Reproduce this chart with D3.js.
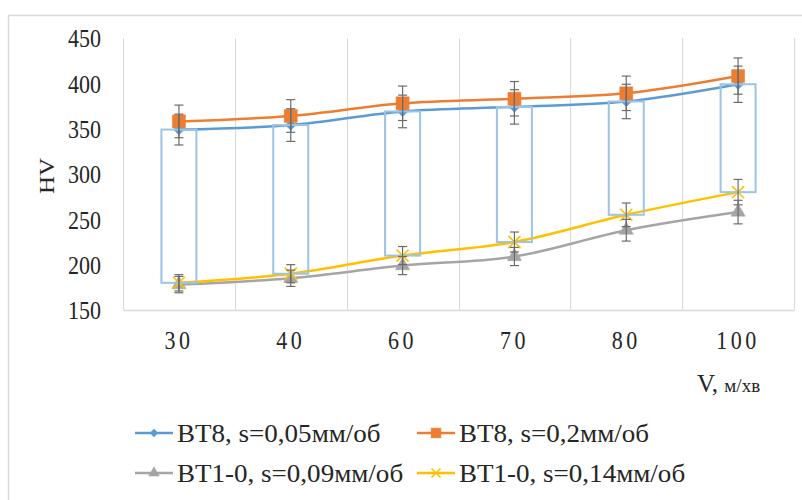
<!DOCTYPE html>
<html>
<head>
<meta charset="utf-8">
<script src="https://cdn.jsdelivr.net/npm/d3@7"></script>
<style>
  body { margin: 0; background: #fff; }
  text { font-family: "Liberation Serif", "Times New Roman", serif; fill: #262626; }
</style>
</head>
<body>
<div id="chart"></div>
<script>
(function () {
  // data
  const speeds = ["30", "40", "60", "70", "80", "100"];
  const yTicks = [150, 200, 250, 300, 350, 400, 450];

  const bt8_005 = [349, 354, 369, 374, 380, 399];
  const bt8_02 = [358, 364, 378, 383, 389, 408];
  const bt10_009 = [178, 185, 199, 209, 238, 258];
  const bt10_014 = [180, 190, 210, 225, 255, 280];

  const err_bt8_005 = [17, 18, 18, 19, 19, 20];
  const err_bt8_02 = [18, 18, 19, 19, 19, 20];
  const err_bt10_009 = [9, 9, 10, 10, 12, 13];
  const err_bt10_014 = [9, 10, 10, 11, 13, 14];

  const seriesNames = [
    "BT8, s=0,05мм/об",
    "BT8, s=0,2мм/об",
    "BT1-0, s=0,09мм/об",
    "BT1-0, s=0,14мм/об",
  ];

  const series = [
    { name: seriesNames[0], values: bt8_005, err: err_bt8_005, color: "#5B9BD5", marker: "diamond" },
    { name: seriesNames[1], values: bt8_02, err: err_bt8_02, color: "#ED7D31", marker: "square" },
    { name: seriesNames[2], values: bt10_009, err: err_bt10_009, color: "#A5A5A5", marker: "triangle" },
    { name: seriesNames[3], values: bt10_014, err: err_bt10_014, color: "#FFC000", marker: "cross" },
  ];

  const W = 802, H = 500;
  const plot = { left: 123, right: 794, top: 38, bottom: 310 };
  const FS = 25;      // font size
  const SX = 0.88;    // axis numbers look squeezed horizontally

  const svg = d3.select("#chart").append("svg")
    .attr("width", W).attr("height", H);

  svg.append("rect").attr("width", W).attr("height", H).attr("fill", "#fff");

  // outer chart frame (runs off the picture right and bottom)
  svg.append("path")
    .attr("d", "M8.5," + H + "V15.5H" + W)
    .attr("fill", "none").attr("stroke", "#d9d9d9").attr("stroke-width", 1.5);

  const x = d3.scaleBand().domain(speeds).range([plot.left, plot.right]);
  const y = d3.scaleLinear().domain([150, 450]).range([plot.bottom, plot.top]);

  // vertical gridlines at category edges
  const edges = speeds.map(d => x(d)).concat([x(speeds[speeds.length - 1]) + x.bandwidth()]);
  svg.append("g").selectAll("line").data(edges).join("line")
    .attr("x1", d => Math.round(d) + 0.5).attr("x2", d => Math.round(d) + 0.5)
    .attr("y1", plot.top).attr("y2", plot.bottom)
    .attr("stroke", "#d9d9d9").attr("stroke-width", 1);

  // y axis
  const yAxis = svg.append("g")
    .attr("transform", `translate(${plot.left},0)`)
    .call(d3.axisLeft(y).tickValues(yTicks).tickSize(0).tickPadding(0));
  yAxis.select(".domain").remove();
  yAxis.selectAll("text")
    .attr("x", null)
    .attr("dy", "0.35em")
    .style("font-size", FS + "px")
    .style("font-family", null)
    .attr("transform", `translate(-22,0) scale(${SX},1)`);

  // x axis
  const xAxis = svg.append("g")
    .attr("transform", `translate(0,${plot.bottom})`)
    .call(d3.axisBottom(x).tickSize(0).tickPadding(21));
  xAxis.select(".domain").attr("stroke", "#d9d9d9").attr("stroke-width", 1.5);
  xAxis.selectAll(".tick text")
    .style("font-size", FS + "px")
    .style("letter-spacing", "4px")
    .style("font-family", null)
    .attr("transform", `scale(${SX},1)`);

  // axis titles
  svg.append("text")
    .attr("transform", `translate(47,176) rotate(-90) scale(1,${SX})`)
    .attr("text-anchor", "middle").attr("dominant-baseline", "central")
    .style("font-size", FS + "px")
    .text("HV");

  const vt = svg.append("text")
    .attr("transform", "translate(697,392)");
  vt.append("tspan").style("font-size", FS + "px").text("V, ");
  vt.append("tspan").style("font-size", "19px").text("м/хв");

  const cx = d => x(d) + x.bandwidth() / 2;

  function markerPath(type, s) {
    if (type === "diamond") return d3.symbol(d3.symbolDiamond2, s * s * 0.5)();
    if (type === "square") return d3.symbol(d3.symbolSquare, s * s)();
    if (type === "triangle") return d3.symbol(d3.symbolTriangle, s * s * 0.45)();
    return d3.symbol(d3.symbolTimes, s * s * 0.5)();
  }
  const markerSize = { diamond: 12, square: 13, triangle: 14, cross: 14 };

  function drawMarker(g, s, px, py, scale) {
    const p = g.append("path")
      .attr("d", markerPath(s.marker, markerSize[s.marker] * scale))
      .attr("transform", `translate(${px},${py})`);
    if (s.marker === "cross") {
      p.attr("fill", "none").attr("stroke", s.color).attr("stroke-width", 1.6);
    } else {
      p.attr("fill", s.color).attr("stroke", s.color).attr("stroke-width", 0.5);
    }
  }

  const line = d3.line().x((v, i) => cx(speeds[i])).y(v => y(v)).curve(d3.curveMonotoneX);

  const seriesG = svg.append("g");
  series.forEach(s => {
    const g = seriesG.append("g");
    g.append("path").attr("d", line(s.values))
      .attr("fill", "none").attr("stroke", s.color).attr("stroke-width", 2.5)
      .attr("stroke-linejoin", "round").attr("stroke-linecap", "round");
    s.values.forEach((v, i) => drawMarker(g, s, cx(speeds[i]), y(v), 1));
  });

  // up-down bars between first and last series (drawn over the blue markers)
  const bw = 35;
  svg.append("g").selectAll("rect").data(speeds).join("rect")
    .attr("x", d => x(d) + x.bandwidth() / 2 - bw / 2)
    .attr("y", (d, i) => y(bt8_005[i]))
    .attr("width", bw)
    .attr("height", (d, i) => y(bt10_014[i]) - y(bt8_005[i]))
    .attr("fill", "none")
    .attr("stroke", "#9DC3E6").attr("stroke-width", 2);

  // error bars
  const eg = svg.append("g").attr("stroke", "#6b6b6b").attr("stroke-width", 1.2);
  series.forEach(s => {
    s.values.forEach((v, i) => {
      const px = cx(speeds[i]);
      const y1 = y(v + s.err[i]), y2 = y(v - s.err[i]);
      eg.append("line").attr("x1", px).attr("x2", px).attr("y1", y1).attr("y2", y2);
      eg.append("line").attr("x1", px - 4.5).attr("x2", px + 4.5).attr("y1", y1).attr("y2", y1);
      eg.append("line").attr("x1", px - 4.5).attr("x2", px + 4.5).attr("y1", y2).attr("y2", y2);
    });
  });

  // legend
  const legendPos = [[135, 433], [417, 433], [135, 473], [417, 473]];
  const lg = svg.append("g");
  series.forEach((s, i) => {
    const [lx, ly] = legendPos[i];
    lg.append("line").attr("x1", lx).attr("x2", lx + 38).attr("y1", ly).attr("y2", ly)
      .attr("stroke", s.color).attr("stroke-width", 2.5);
    drawMarker(lg, s, lx + 19, ly, 0.75);
    lg.append("text")
      .attr("transform", `translate(${lx + 42},${ly}) scale(1.04,1)`)
      .attr("dy", "0.33em")
      .style("font-size", "26px")
      .text(s.name);
  });
})();
</script>
</body>
</html>
